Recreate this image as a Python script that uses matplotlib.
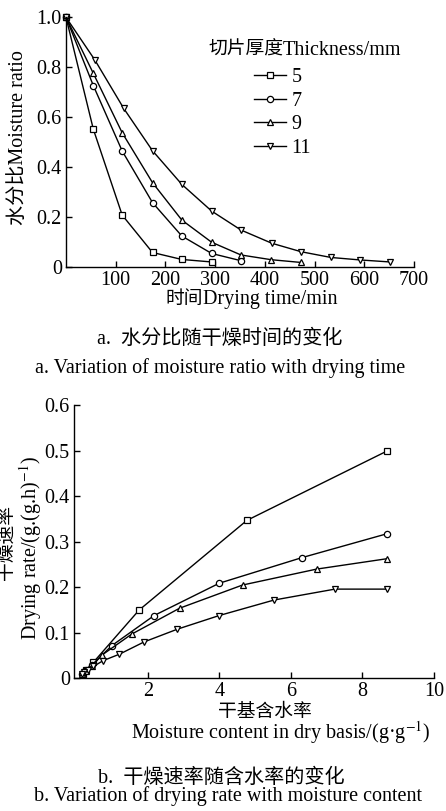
import matplotlib
matplotlib.use("Agg")
import matplotlib.pyplot as plt
from matplotlib.ticker import FixedLocator, FuncFormatter

plt.rcParams['font.family'] = ['Liberation Serif', 'Noto Sans CJK SC']
plt.rcParams['mathtext.fontset'] = 'stix'
plt.rcParams['font.size'] = 14.5

# a. moisture ratio vs drying time
thickness = ["5", "7", "9", "11"]
markers = ["s", "o", "^", "v"]
t_5 = [0, 55, 113, 174, 233, 293]
mr_5 = [1.0, 0.551, 0.207, 0.057, 0.029, 0.019]
t_7 = [0, 55, 113, 174, 233, 293, 352]
mr_7 = [1.0, 0.726, 0.464, 0.257, 0.123, 0.053, 0.024]
t_9 = [0, 55, 113, 174, 233, 293, 352, 413, 473]
mr_9 = [1.0, 0.775, 0.537, 0.337, 0.187, 0.098, 0.047, 0.028, 0.017]
t_11 = [0, 58, 116, 174, 233, 293, 352, 414, 473, 533, 592, 652]
mr_11 = [1.0, 0.829, 0.635, 0.465, 0.330, 0.223, 0.147, 0.094, 0.060, 0.037, 0.027, 0.019]

# b. drying rate vs dry-basis moisture content
mc_5 = [8.70, 4.77, 1.76, 0.48, 0.27, 0.18]
rate_5 = [0.500, 0.347, 0.150, 0.035, 0.018, 0.010]
mc_7 = [8.70, 6.30, 4.00, 2.18, 1.00, 0.45, 0.25, 0.15]
rate_7 = [0.318, 0.265, 0.209, 0.138, 0.072, 0.030, 0.015, 0.010]
mc_9 = [8.70, 6.72, 4.65, 2.89, 1.55, 0.72, 0.45, 0.28, 0.17]
rate_9 = [0.263, 0.240, 0.205, 0.154, 0.097, 0.051, 0.028, 0.016, 0.010]
mc_11 = [8.70, 7.23, 5.53, 4.00, 2.83, 1.90, 1.21, 0.76, 0.48, 0.32, 0.22, 0.16]
rate_11 = [0.196, 0.196, 0.172, 0.138, 0.108, 0.080, 0.053, 0.039, 0.026, 0.018, 0.013, 0.010]

W, H = 446, 811
fig = plt.figure(figsize=(W / 100, H / 100), dpi=100)


def fx(px):
    return px / W


def fy(py):
    return 1 - py / H


def style(ax):
    for s in ["top", "right"]:
        ax.spines[s].set_visible(False)
    for s in ["left", "bottom"]:
        ax.spines[s].set_linewidth(1.0)
    ax.tick_params(direction="in", length=4, width=1, labelsize=14.5, pad=3)


kw = dict(color="black", lw=1.0, ms=4.5, mfc="white", mec="black", mew=0.9, clip_on=False)
cjk = 13.5

# ---- plot a
ax1 = fig.add_axes([fx(66), fy(266.7), fx(348), 249.4 / H])
for t, mr, m, lab in zip([t_5, t_7, t_9, t_11], [mr_5, mr_7, mr_9, mr_11], markers, thickness):
    ax1.plot(t, mr, marker=m, label=lab, **kw)
ax1.set_xlim(0, 700)
ax1.set_ylim(0, 1.0)
ax1.xaxis.set_major_locator(FixedLocator([100, 200, 300, 400, 500, 600, 700]))
ax1.yaxis.set_major_locator(FixedLocator([0, 0.2, 0.4, 0.6, 0.8, 1.0]))
ax1.yaxis.set_major_formatter(FuncFormatter(lambda v, p: "0" if v == 0 else f"{v:.1f}"))
style(ax1)
ax1.legend(loc="upper left", bbox_to_anchor=((254 - 66) / 348, (266.7 - 68) / 249.4),
           frameon=False, handlelength=1.6, handletextpad=0.25, labelspacing=0.22,
           borderaxespad=0, borderpad=0)

# legend title: chinese part set a bit smaller
fig.text(fx(283), fy(55), "切片厚度", ha="right", va="baseline", fontsize=cjk)
fig.text(fx(283), fy(55), "Thickness/mm", ha="left", va="baseline")

fig.text(fx(18), fy(138), "水分比Moisture ratio", rotation=90, ha="center", va="center")
fig.text(fx(203), fy(304), "时间", ha="right", va="baseline", fontsize=cjk)
fig.text(fx(203), fy(304), "Drying time/min", ha="left", va="baseline")
fig.text(fx(220), fy(339), "a.  水分比随干燥时间的变化", ha="center", va="center")
fig.text(fx(220), fy(368), "a. Variation of moisture ratio with drying time", ha="center", va="center")

# ---- plot b
ax2 = fig.add_axes([fx(74), fy(678.3), fx(360), 273 / H])
for mc, r, m in zip([mc_5, mc_7, mc_9, mc_11], [rate_5, rate_7, rate_9, rate_11], markers):
    ax2.plot(mc, r, marker=m, **kw)
ax2.set_xlim(-0.06, 10)
ax2.set_ylim(0, 0.6)
ax2.xaxis.set_major_locator(FixedLocator([2, 4, 6, 8, 10]))
ax2.yaxis.set_major_locator(FixedLocator([0, 0.1, 0.2, 0.3, 0.4, 0.5, 0.6]))
ax2.yaxis.set_major_formatter(FuncFormatter(lambda v, p: "0" if v == 0 else f"{v:.1f}"))
style(ax2)

fig.text(fx(8), fy(542), "干燥速率", rotation=90, ha="center", va="center", fontsize=cjk)
fig.text(fx(31), fy(548), r"Drying rate/(g.(g.h)$^{-1}$)", rotation=90, ha="center", va="center")
fig.text(fx(265), fy(712), "干基含水率", ha="center", va="center", fontsize=cjk)
fig.text(fx(281), fy(733), r"Moisture content in dry basis/(g·g$^{-1}$)", ha="center", va="center")
fig.text(fx(221), fy(778), "b.  干燥速率随含水率的变化", ha="center", va="center")
fig.text(fx(228), fy(796), "b. Variation of drying rate with moisture content", ha="center", va="center")

fig.savefig("out.png", dpi=100)
